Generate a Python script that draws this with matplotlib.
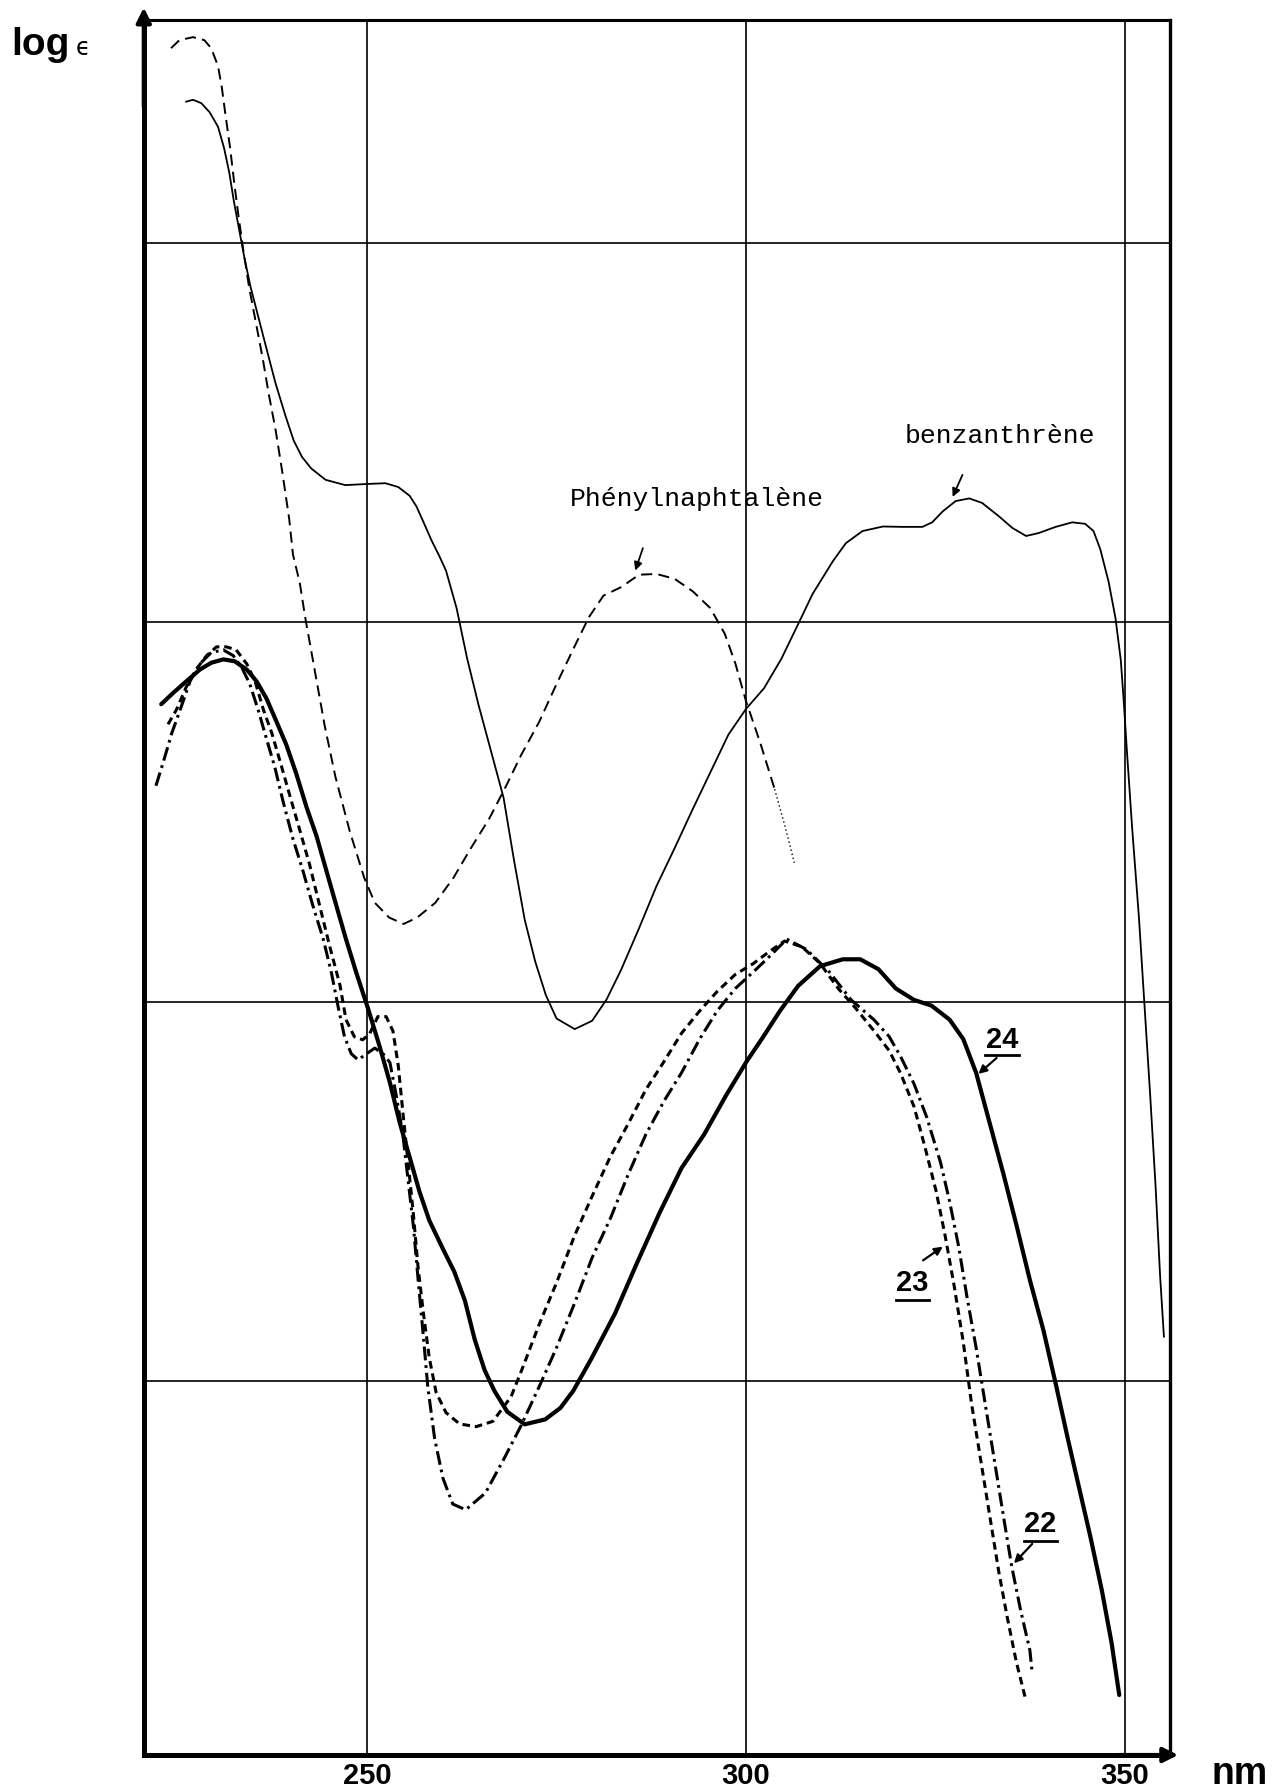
import matplotlib.pyplot as plt

plt.rcParams["lines.scale_dashes"] = False
plt.rcParams["lines.solid_joinstyle"] = "round"
plt.rcParams["lines.dash_joinstyle"] = "round"

# benzanthrène (trait fin continu)
benz_nm = [226.1, 227.0, 228.1, 229.2, 230.3, 231.1, 231.8, 232.4, 233.1, 233.8,
           234.6, 235.7, 236.8, 237.9, 239.2, 240.3, 241.4, 242.6, 244.5, 247.1,
           250.0, 252.4, 254.1, 255.6, 256.5, 257.4, 258.5, 259.5, 260.4, 261.8,
           263.2, 264.7, 266.5, 268.0, 269.4, 270.8, 272.2, 273.6, 275.0, 277.4,
           279.7, 281.6, 283.5, 285.9, 288.2, 290.6, 292.9, 295.3, 297.7, 300.0,
           302.4, 304.7, 307.1, 308.8, 311.5, 313.2, 315.4, 318.1, 320.7, 323.3,
           324.6, 326.0, 327.7, 329.5, 331.2, 333.4, 335.2, 337.0, 338.7, 340.9,
           343.1, 344.8, 345.9, 346.8, 347.9, 348.8, 349.5, 349.9, 350.3, 351.0,
           351.9, 352.7, 353.4, 354.1, 354.7, 355.2]
benz_log = [5.371, 5.376, 5.367, 5.343, 5.305, 5.249, 5.183, 5.108, 5.033, 4.958,
            4.883, 4.798, 4.713, 4.629, 4.544, 4.478, 4.435, 4.405, 4.375, 4.361,
            4.364, 4.366, 4.356, 4.333, 4.305, 4.265, 4.215, 4.175, 4.136, 4.037,
            3.904, 3.782, 3.649, 3.538, 3.371, 3.216, 3.105, 3.017, 2.956, 2.928,
            2.950, 3.006, 3.083, 3.194, 3.305, 3.405, 3.504, 3.604, 3.704, 3.771,
            3.826, 3.904, 4.003, 4.074, 4.161, 4.208, 4.240, 4.252, 4.251, 4.251,
            4.263, 4.292, 4.319, 4.326, 4.314, 4.279, 4.248, 4.227, 4.235, 4.251,
            4.263, 4.259, 4.240, 4.192, 4.106, 4.011, 3.901, 3.790, 3.664, 3.459,
            3.222, 2.970, 2.749, 2.513, 2.276, 2.118]

# phénylnaphtalène (tirets fins)
phen_nm = [224.1, 225.2, 227.0, 228.5, 229.4, 230.3, 230.8, 231.3, 231.9, 232.4,
           233.0, 233.6, 234.4, 235.3, 236.2, 237.0, 237.9, 238.8, 239.7, 240.2,
           241.1, 241.8, 243.0, 244.4, 245.8, 247.7, 249.6, 251.0, 252.9, 254.8,
           256.6, 259.0, 261.4, 263.7, 266.1, 268.4, 270.3, 272.7, 275.0, 277.4,
           279.3, 281.2, 283.5, 285.9, 288.2, 290.6, 293.0, 295.3, 297.2, 298.6,
           300.0, 301.9, 303.8, 305.2, 306.4]
phen_log = [5.512, 5.533, 5.541, 5.533, 5.512, 5.465, 5.409, 5.334, 5.249, 5.164,
            5.070, 4.986, 4.883, 4.789, 4.695, 4.601, 4.507, 4.394, 4.272, 4.178,
            4.103, 4.014, 3.881, 3.726, 3.593, 3.449, 3.327, 3.261, 3.222, 3.205,
            3.222, 3.261, 3.327, 3.405, 3.482, 3.571, 3.649, 3.737, 3.837, 3.937,
            4.014, 4.070, 4.092, 4.125, 4.127, 4.114, 4.081, 4.037, 3.970, 3.892,
            3.793, 3.682, 3.560, 3.460, 3.366]

# composé 24 (trait épais)
c24_nm = [222.8, 224.4, 226.1, 227.9, 229.4, 231.0, 232.5, 234.1, 235.4, 236.7,
          238.0, 239.3, 240.6, 242.0, 243.3, 244.6, 245.9, 247.2, 248.6, 250.1,
          251.6, 253.0, 254.3, 255.6, 256.9, 258.2, 260.0, 261.5, 262.9, 264.2,
          265.5, 266.8, 268.5, 270.8, 273.5, 275.5, 277.2, 279.6, 282.7, 285.6,
          288.6, 291.5, 294.5, 297.4, 300.1, 302.1, 304.5, 306.9, 309.8, 312.8,
          315.1, 317.5, 319.8, 322.2, 324.5, 326.9, 328.7, 330.4, 332.2, 334.0,
          335.7, 337.5, 339.3, 341.0, 342.5, 344.0, 345.5, 347.0, 348.3, 349.3]
c24_log = [3.784, 3.814, 3.844, 3.875, 3.893, 3.902, 3.897, 3.875, 3.844, 3.799,
           3.739, 3.678, 3.603, 3.512, 3.437, 3.346, 3.255, 3.165, 3.074, 2.983,
           2.885, 2.787, 2.681, 2.591, 2.500, 2.424, 2.349, 2.289, 2.213, 2.110,
           2.030, 1.975, 1.920, 1.887, 1.900, 1.930, 1.975, 2.060, 2.178, 2.311,
           2.444, 2.562, 2.651, 2.754, 2.843, 2.902, 2.976, 3.042, 3.094, 3.112,
           3.112, 3.086, 3.035, 3.005, 2.990, 2.953, 2.902, 2.813, 2.680, 2.547,
           2.414, 2.267, 2.134, 1.986, 1.850, 1.720, 1.590, 1.450, 1.310, 1.174]

# composé 23 (tirets)
c23_nm = [223.7, 224.8, 226.1, 227.4, 228.8, 230.1, 231.4, 232.7, 234.1, 235.2,
          236.3, 237.4, 238.5, 239.8, 241.1, 242.4, 243.7, 245.0, 246.4, 247.2,
          248.3, 249.4, 250.3, 251.4, 252.5, 253.4, 254.1, 254.7, 255.4, 256.1,
          256.7, 257.4, 258.2, 259.1, 260.4, 262.2, 264.4, 266.6, 269.0, 270.6,
          272.7, 275.0, 277.4, 279.7, 282.1, 284.5, 286.8, 289.2, 291.5, 293.9,
          296.2, 298.6, 301.0, 303.0, 305.1, 307.4, 309.8, 312.2, 314.5, 316.9,
          318.9, 320.4, 322.2, 323.6, 325.1, 326.3, 327.5, 328.7, 329.8, 331.0,
          332.2, 333.4, 334.5, 335.7, 336.9]
c23_log = [3.731, 3.769, 3.829, 3.875, 3.912, 3.935, 3.935, 3.927, 3.890, 3.844,
           3.769, 3.708, 3.633, 3.542, 3.452, 3.361, 3.255, 3.150, 3.044, 2.953,
           2.908, 2.900, 2.915, 2.961, 2.961, 2.923, 2.832, 2.711, 2.576, 2.440,
           2.304, 2.183, 2.062, 1.971, 1.918, 1.888, 1.881, 1.895, 1.960, 2.040,
           2.150, 2.260, 2.385, 2.488, 2.592, 2.680, 2.769, 2.843, 2.917, 2.976,
           3.027, 3.072, 3.101, 3.131, 3.160, 3.145, 3.101, 3.035, 2.983, 2.924,
           2.872, 2.813, 2.724, 2.621, 2.503, 2.385, 2.252, 2.104, 1.941, 1.794,
           1.646, 1.498, 1.380, 1.262, 1.166]

# composé 22 (trait mixte)
c22_nm = [222.1, 223.1, 224.2, 225.3, 226.6, 227.9, 229.4, 231.0, 232.3, 233.4,
          234.5, 235.6, 236.7, 237.8, 238.9, 240.2, 241.5, 242.8, 244.2, 245.3,
          246.2, 247.0, 247.9, 248.8, 249.9, 251.0, 252.1, 253.0, 253.8, 254.7,
          255.4, 256.1, 256.7, 257.4, 258.0, 258.9, 260.0, 261.3, 263.0, 265.6,
          268.0, 270.3, 272.7, 275.0, 277.4, 279.7, 282.1, 284.5, 286.8, 289.2,
          291.5, 293.9, 296.2, 298.6, 301.0, 303.3, 305.4, 308.0, 311.0, 313.9,
          316.9, 318.9, 320.4, 322.2, 323.9, 325.7, 326.9, 328.1, 329.2, 330.4,
          331.6, 332.8, 334.0, 335.1, 336.3, 337.5, 337.8]
c22_log = [3.569, 3.633, 3.708, 3.769, 3.844, 3.890, 3.920, 3.927, 3.912, 3.882,
           3.837, 3.769, 3.693, 3.618, 3.527, 3.429, 3.346, 3.255, 3.165, 3.074,
           2.983, 2.908, 2.863, 2.847, 2.863, 2.878, 2.863, 2.840, 2.757, 2.651,
           2.530, 2.409, 2.273, 2.122, 1.986, 1.850, 1.745, 1.677, 1.662, 1.706,
           1.794, 1.883, 1.986, 2.089, 2.207, 2.326, 2.429, 2.547, 2.651, 2.739,
           2.813, 2.902, 2.976, 3.035, 3.079, 3.123, 3.165, 3.138, 3.079, 3.005,
           2.953, 2.909, 2.857, 2.784, 2.695, 2.577, 2.474, 2.355, 2.222, 2.089,
           1.941, 1.794, 1.646, 1.513, 1.395, 1.292, 1.233]

x_ticks = [250, 300, 350]
x_labels = ["250", "300", "350"]
grid_levels = [2, 3, 4, 5]

mono = "Liberation Mono"
sans = "Liberation Sans"

fig = plt.figure(figsize=(12.77, 17.89), dpi=100)
ax = fig.add_axes([0.1126, 0.019, 0.8036, 0.970])
ax.set_xlim(220.5, 356.0)
ax.set_ylim(1.016, 5.587)

ax.set_xticks(x_ticks)
ax.set_xticklabels(x_labels, fontfamily=sans, fontweight="bold", fontsize=21)
ax.set_yticks(grid_levels)
ax.tick_params(length=0, labelleft=False, pad=5)
ax.grid(True, color="black", lw=1.2)
ax.set_axisbelow(True)

ax.spines["left"].set_linewidth(3.6)
ax.spines["bottom"].set_linewidth(3.6)
ax.spines["top"].set_linewidth(2.2)
ax.spines["right"].set_linewidth(2.4)

# flèches au bout des axes
arrow_kw = dict(arrowstyle="-|>", lw=3.0, color="black", mutation_scale=22,
                shrinkA=0, shrinkB=0)
ax.annotate("", xy=(0, 1.007), xytext=(0, 0.95), xycoords="axes fraction",
            arrowprops=arrow_kw, annotation_clip=False)
ax.annotate("", xy=(1.008, 0), xytext=(0.95, 0), xycoords="axes fraction",
            arrowprops=arrow_kw, annotation_clip=False)

# courbes
ax.plot(benz_nm, benz_log, color="black", lw=1.3)
ax.plot(phen_nm[:-2], phen_log[:-2], color="black", lw=1.4, dashes=(8, 4.5))
ax.plot(phen_nm[-3:], phen_log[-3:], color="black", lw=1.0, dashes=(1, 2))
ax.plot(c24_nm, c24_log, color="black", lw=3.0, solid_capstyle="round")
ax.plot(c23_nm, c23_log, color="black", lw=2.2, dashes=(5.5, 3.5))
ax.plot(c22_nm, c22_log, color="black", lw=2.2, dashes=(10, 3.5, 2, 3.5))

# légendes des courbes
ax.text(293.5, 4.325, "Phénylnaphtalène", fontfamily=mono, fontsize=19,
        ha="center", va="center")
ax.text(333.5, 4.49, "benzanthrène", fontfamily=mono, fontsize=19,
        ha="center", va="center")

small_arrow = dict(arrowstyle="-|>", lw=1.3, color="black", mutation_scale=12,
                   shrinkA=0, shrinkB=0)
ax.annotate("", xy=(285.4, 4.136), xytext=(286.4, 4.195), arrowprops=small_arrow)
ax.annotate("", xy=(327.3, 4.330), xytext=(328.6, 4.388), arrowprops=small_arrow)

# numéros des composés, soulignés
numbers = [
    ("24", 333.8, 2.900, 2.861, (333.1, 2.852), (330.7, 2.810)),
    ("23", 322.0, 2.259, 2.215, (323.4, 2.319), (326.0, 2.355)),
    ("22", 338.9, 1.624, 1.580, (337.8, 1.572), (335.4, 1.521)),
]
for label, tx, ty, uy, tail, tip in numbers:
    ax.text(tx, ty, label, fontfamily=sans, fontweight="bold", fontsize=21,
            ha="center", va="center")
    ax.plot([tx - 2.2, tx + 2.2], [uy, uy], color="black", lw=2.0)
    ax.annotate("", xy=tip, xytext=tail, arrowprops=dict(small_arrow, lw=1.6))

# titres des axes
fig.text(0.0086, 0.9693, "log", fontfamily=sans, fontweight="bold", fontsize=28,
         va="baseline")
fig.text(0.059, 0.9693, "ϵ", fontfamily="DejaVu Sans", fontsize=17, va="baseline")
fig.text(0.949, 0.003, "nm", fontfamily=sans, fontweight="bold", fontsize=27,
         va="baseline")

fig.savefig("out.png", dpi=100, facecolor="white")
